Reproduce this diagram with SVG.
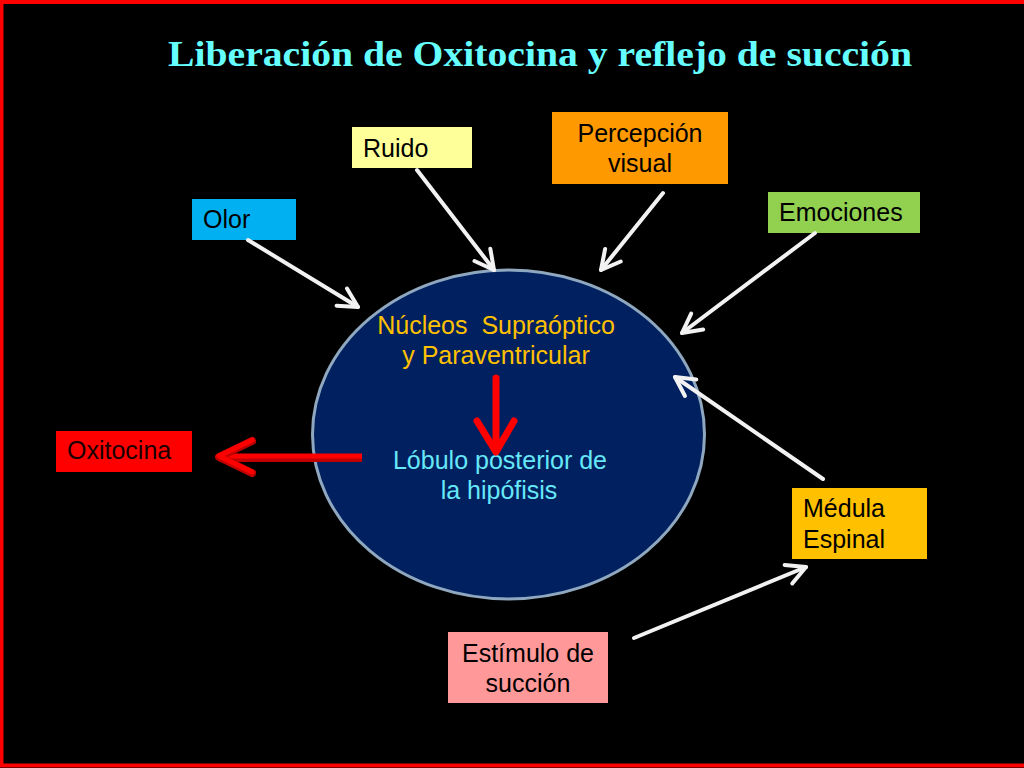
<svg xmlns="http://www.w3.org/2000/svg" width="1024" height="768" viewBox="0 0 1024 768">
<style>
.box-text{font-family:"Liberation Sans",Arial,sans-serif;font-size:25px;fill:#000}
.conn{stroke:#F2F2F2;stroke-width:4;fill:none;stroke-linecap:round}
.red{stroke:#FF0000;stroke-width:7;fill:none;stroke-linecap:round;stroke-linejoin:round}
</style>
<defs>
<marker id="wh" markerUnits="userSpaceOnUse" markerWidth="40" markerHeight="40" refX="0" refY="0" viewBox="-30 -20 40 40" orient="auto" overflow="visible">
<path d="M-19,-10 L0,0 L-19,10" fill="none" stroke="#F2F2F2" stroke-width="4" stroke-linecap="round" stroke-linejoin="round"/>
</marker>
</defs>
<rect x="0" y="0" width="1024" height="768" fill="#000"/>
<rect x="1.5" y="2" width="1040" height="763.5" fill="none" stroke="#FF0000" stroke-width="4"/>
<text x="540" y="66" text-anchor="middle" font-family="'Liberation Serif','Times New Roman',serif" font-size="36" font-weight="bold" fill="#66FFFF" textLength="744" lengthAdjust="spacingAndGlyphs">Liberación de Oxitocina y reflejo de succión</text>

<g id="hipotalamo">
<ellipse cx="508.5" cy="434.5" rx="196" ry="164.5" fill="#002060" stroke="#8FA8BF" stroke-width="3"/>
<text x="496" y="334" text-anchor="middle" font-family="'Liberation Sans',Arial,sans-serif" font-size="25" fill="#FFC000" xml:space="preserve">Núcleos  Supraóptico</text>
<text x="496" y="364" text-anchor="middle" font-family="'Liberation Sans',Arial,sans-serif" font-size="25" fill="#FFC000">y Paraventricular</text>
<text x="500" y="469" text-anchor="middle" font-family="'Liberation Sans',Arial,sans-serif" font-size="25" fill="#66E8F8">Lóbulo posterior de</text>
<text x="499" y="499" text-anchor="middle" font-family="'Liberation Sans',Arial,sans-serif" font-size="25" fill="#66E8F8">la hipófisis</text>
</g>

<g id="ruido"><rect x="352" y="127" width="120" height="41" fill="#FFFF99"/><text class="box-text" x="363" y="157">Ruido</text></g>
<g id="olor"><rect x="192" y="199" width="104" height="41" fill="#00B0F0"/><text class="box-text" x="203" y="228">Olor</text></g>
<g id="percepcion"><rect x="552" y="112" width="176" height="72" fill="#FF9900"/><text class="box-text" x="640" y="142" text-anchor="middle">Percepción</text><text class="box-text" x="640" y="172" text-anchor="middle">visual</text></g>
<g id="emociones"><rect x="768" y="192" width="152" height="41" fill="#92D050"/><text class="box-text" x="779" y="221">Emociones</text></g>
<g id="oxitocina"><rect x="56" y="431" width="136" height="41" fill="#FF0000"/><text class="box-text" x="67" y="459" style="fill:#1A0000">Oxitocina</text></g>
<g id="medula"><rect x="792" y="488" width="135" height="71" fill="#FFC000"/><text class="box-text" x="803" y="517">Médula</text><text class="box-text" x="803" y="548">Espinal</text></g>
<g id="estimulo"><rect x="448" y="632" width="160" height="71" fill="#FF9999"/><text class="box-text" x="528" y="662" text-anchor="middle">Estímulo de</text><text class="box-text" x="528" y="692" text-anchor="middle">succión</text></g>

<g id="connectors">
<line class="conn" x1="248" y1="240" x2="358" y2="307" marker-end="url(#wh)"/>
<line class="conn" x1="417" y1="170" x2="494" y2="270" marker-end="url(#wh)"/>
<line class="conn" x1="663" y1="193" x2="601" y2="270" marker-end="url(#wh)"/>
<line class="conn" x1="815" y1="233" x2="682" y2="333" marker-end="url(#wh)"/>
<line class="conn" x1="823" y1="479" x2="675" y2="377" marker-end="url(#wh)"/>
<line class="conn" x1="634" y1="638" x2="806" y2="567" marker-end="url(#wh)"/>
<g id="red-down">
<line class="red" x1="496" y1="378" x2="496" y2="450"/>
<path class="red" d="M477,421 L496,452 L514,421"/>
</g>
<g id="red-left">
<line x1="362" y1="458" x2="222" y2="458" stroke="#C00000" stroke-width="8"/>
<line x1="362" y1="456" x2="222" y2="456" stroke="#FF0000" stroke-width="5"/>
<path d="M252,441 L219,457 L252,473" fill="none" stroke="#C00000" stroke-width="8" stroke-linecap="round" stroke-linejoin="round"/>
<path d="M252,440 L219,456 L252,472" fill="none" stroke="#FF0000" stroke-width="5" stroke-linecap="round" stroke-linejoin="round"/>
</g>
</g>
</svg>
